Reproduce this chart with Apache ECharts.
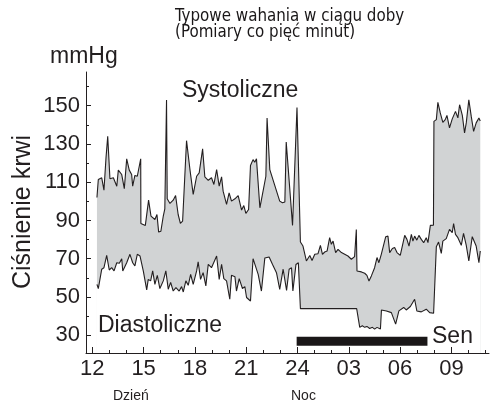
<!DOCTYPE html>
<html>
<head>
<meta charset="utf-8">
<script src="https://cdn.jsdelivr.net/npm/echarts@6/dist/echarts.min.js"></script>
<style>
  html, body { margin: 0; padding: 0; background: #fff; }
  #chart { width: 492px; height: 404px; }
</style>
</head>
<body>
<div id="chart"></div>
<script>
// Hours since midnight of the first day (24 = midnight, 33 = 09:00 next day)
const systolicHours = [
  12.27, 12.35, 12.55, 12.68, 12.80, 12.90, 13.03, 13.23, 13.43, 13.52, 13.72, 13.87, 14.01, 14.16, 14.30,
  14.36, 14.49, 14.63, 14.83, 14.84, 15.10, 15.29, 15.43, 15.53, 15.66, 15.78, 15.88, 16.01, 16.15, 16.24,
  16.34, 16.38, 16.54, 16.73, 16.87, 17.02, 17.15, 17.28, 17.51, 17.71, 17.90, 18.10, 18.25, 18.45, 18.58,
  18.78, 18.97, 19.11, 19.27, 19.42, 19.56, 19.65, 19.85, 20.00, 20.14, 20.34, 20.53, 20.73, 20.86, 20.98,
  21.14, 21.25, 21.40, 21.50, 21.60, 21.80, 22.15, 22.22, 22.38, 22.96, 23.12, 23.26, 23.34, 23.71, 23.97,
  24.17, 24.32, 24.52, 24.72, 24.85, 25.01, 25.20, 25.34, 25.46, 25.59, 25.73, 25.88, 25.98, 26.08, 26.23,
  26.37, 26.57, 26.76, 26.95, 27.15, 27.34, 27.44, 27.48, 27.74, 27.93, 28.06, 28.18, 28.32, 28.51, 28.65,
  28.76, 28.90, 29.16, 29.29, 29.39, 29.55, 29.68, 29.82, 30.01, 30.27, 30.40, 30.52, 30.66, 30.75, 30.85,
  30.98, 31.10, 31.24, 31.38, 31.53, 31.63, 31.77, 31.88, 31.95, 31.98, 32.12, 32.21, 32.35, 32.50, 32.64,
  32.74, 32.89, 33.05, 33.24, 33.38, 33.48, 33.64, 33.77, 33.87, 34.02, 34.16, 34.30, 34.45, 34.61, 34.69
];
const systolicValues = [
  102, 111.4, 112.3, 105.8, 122.7, 134, 111.8, 112.3, 107.9, 116.3, 114, 106.6, 122.2, 116.3, 114,
  107.9, 113.5, 113.1, 122.2, 88.4, 87.4, 100.6, 92.3, 93.1, 90.5, 93.1, 83.9, 84.4, 92.3, 96,
  153, 101.3, 98.9, 100.6, 103, 93.1, 88.5, 89.6, 131.7, 116.6, 103.6, 113.1, 114.9, 127.4, 112.8,
  111, 112.3, 108.8, 116.6, 107.9, 112.8, 105.3, 98.4, 104.4, 100.1, 101.3, 103, 95.4, 97.8, 93.7,
  95.7, 118.7, 121.8, 120.4, 122.2, 96.6, 113.1, 143.6, 116.6, 100.1, 99.2, 99.6, 131, 87.4, 149,
  78.7, 76.6, 68.8, 71.7, 69.1, 72.3, 72.6, 77, 72.3, 73.5, 74, 81, 77.5, 79.2, 73.2,
  74.9, 73.2, 72.3, 71.4, 69.7, 71.1, 85.3, 63.6, 63.1, 62.4, 61.3, 58.3, 61, 65.3, 70.6,
  67.9, 72.3, 81.5, 81.8, 73.2, 75.3, 75.8, 73.2, 71.7, 82.2, 80.1, 76.6, 82.7, 79.2, 81.8,
  79.7, 82.2, 80.1, 78.4, 81, 78.4, 87.4, 88.4, 87.5, 141.8, 142.7, 151.7, 146.2, 141.3, 142.7,
  144.9, 138.4, 143.1, 147, 143.6, 150.5, 144.9, 135.8, 141, 153.1, 144.5, 136.6, 141, 143.6, 142
];

const diastolicHours = [
  12.27, 12.35, 12.55, 12.68, 12.84, 12.99, 13.13, 13.27, 13.43, 13.58, 13.72, 13.78, 14.01, 14.20, 14.36,
  14.49, 14.63, 14.79, 14.98, 15.18, 15.27, 15.41, 15.53, 15.66, 15.80, 15.95, 16.15, 16.30, 16.44, 16.58,
  16.73, 16.89, 17.08, 17.22, 17.32, 17.47, 17.61, 17.75, 17.90, 18.10, 18.19, 18.33, 18.48, 18.64, 18.78,
  18.97, 19.27, 19.42, 19.56, 19.69, 19.85, 20.04, 20.14, 20.34, 20.43, 20.59, 20.78, 20.92, 21.02, 21.25,
  21.40, 21.50, 21.70, 21.89, 22.09, 22.34, 22.54, 22.77, 22.96, 23.16, 23.36, 23.51, 23.65, 23.73, 23.91,
  24.05, 24.17, 27.46, 27.64, 27.79, 27.93, 28.06, 28.22, 28.38, 28.51, 28.65, 28.85, 28.91, 29.20, 29.49,
  29.74, 29.93, 30.21, 30.36, 30.60, 30.85, 30.98, 31.24, 31.53, 31.73, 31.96, 32.05, 32.12, 32.25, 32.41,
  32.50, 32.70, 32.89, 33.05, 33.13, 33.24, 33.38, 33.58, 33.71, 33.87, 34.02, 34.22, 34.45, 34.61, 34.69
];
const diastolicValues = [
  56.6, 54.4, 64.5, 65.3, 71.7, 64.1, 65.3, 63.6, 67.9, 67.6, 70, 63.6, 67.9, 72.3, 67.9,
  66.2, 72.3, 71.4, 63.6, 53.7, 59.2, 58.4, 63.6, 56.6, 61.3, 54.4, 58.4, 63.6, 54, 57.6,
  53.1, 54.9, 53.1, 55.4, 52.6, 58.4, 56.1, 61.8, 56.6, 63.6, 68.3, 59.2, 62.7, 55.8, 67,
  65.3, 71.4, 59.2, 67, 59.6, 58.4, 48.8, 61.3, 60.6, 53.1, 59.6, 54.4, 55.4, 49.7, 47.9,
  70, 70.4, 61.8, 53.1, 70.4, 70.9, 67, 62.7, 54, 64.5, 53.4, 64.5, 65.3, 53.1, 67,
  67.9, 43.9, 43.9, 34.1, 34.9, 34.1, 34.6, 33.5, 34.1, 33.2, 34.1, 33.2, 43.2, 42.7, 41.8,
  35.8, 42.7, 44.5, 43.2, 45, 48.8, 42.7, 42.2, 43.6, 41.8, 41.5, 41.8, 76.3, 78.7, 72.8,
  79.2, 80.5, 85.3, 83.6, 88.4, 82.7, 81, 77, 83.2, 77, 68.8, 81.5, 76.6, 67.9, 74
];

// Sleep period (start, end in hours) and the level the bar is drawn at
const sleepHours = [23.95, 31.6];
const sleepLevel = 26.8;

// Axis ticks
const hourLabels = [12, 15, 18, 21, 24, 27, 30, 33];
const hourMinorTicks = [12, 13, 14, 15, 16, 17, 18, 19, 20, 21, 22, 23, 24, 25, 26, 27, 28, 29, 30, 31, 32, 33, 34, 35];
const pressureLabels = [30, 50, 70, 90, 110, 130, 150];
const pressureMinorTicks = [40, 60, 80, 100, 120, 140, 160];

const INK = '#231f20';
const FONT = 'Liberation Sans, Arial, sans-serif';

const zip = (xs, ys) => xs.map((x, i) => [x, ys[i]]);

function hourText(v) {
  const h = v % 24 === 0 ? 24 : v % 24;
  return h < 10 ? '0' + h : String(h);
}

const chart = echarts.init(document.getElementById('chart'), null, { renderer: 'canvas' });

const xRange = { min: 11.63, max: 35.2 };
const yRange = { min: 20.7, max: 167.6 };

chart.setOption({
  animation: false,
  backgroundColor: '#fff',
  grid: { left: 86, right: 3, top: 72, bottom: 51, containLabel: false },
  xAxis: [
    {
      type: 'value', ...xRange, z: 10,
      axisLine: { show: true, lineStyle: { color: INK, width: 1 } },
      axisTick: { show: true, inside: true, length: 6, customValues: hourLabels, lineStyle: { color: INK } },
      axisLabel: {
        show: true, customValues: hourLabels, formatter: hourText, margin: 5,
        color: INK, fontSize: 22, fontFamily: FONT
      },
      splitLine: { show: false }
    },
    {
      type: 'value', ...xRange, z: 10, position: 'bottom',
      axisLine: { show: false },
      axisTick: { show: true, inside: true, length: 3, customValues: hourMinorTicks, lineStyle: { color: INK } },
      axisLabel: { show: false },
      splitLine: { show: false }
    }
  ],
  yAxis: [
    {
      type: 'value', ...yRange, z: 10, position: 'left',
      axisLine: { show: true, lineStyle: { color: INK, width: 1 } },
      axisTick: { show: true, inside: true, length: 5, customValues: pressureLabels, lineStyle: { color: INK } },
      axisLabel: {
        show: true, customValues: pressureLabels, margin: 6,
        color: INK, fontSize: 22, fontFamily: FONT
      },
      splitLine: { show: false }
    },
    {
      type: 'value', ...yRange, z: 10, position: 'left',
      axisLine: { show: false },
      axisTick: { show: true, inside: true, length: 3, customValues: pressureMinorTicks, lineStyle: { color: INK } },
      axisLabel: { show: false },
      splitLine: { show: false }
    }
  ],
  series: [
    {
      name: 'Systoliczne', type: 'line', xAxisIndex: 0, yAxisIndex: 0,
      data: zip(systolicHours, systolicValues),
      symbol: 'none', z: 2,
      lineStyle: { color: INK, width: 1.1 },
      areaStyle: { color: '#d1d3d4', opacity: 1, origin: 'start' }
    },
    {
      name: 'Diastoliczne', type: 'line', xAxisIndex: 0, yAxisIndex: 0,
      data: zip(diastolicHours, diastolicValues),
      symbol: 'none', z: 3,
      lineStyle: { color: INK, width: 1.1 },
      areaStyle: { color: '#ffffff', opacity: 1, origin: 'start' }
    },
    {
      name: 'Sen', type: 'line', xAxisIndex: 0, yAxisIndex: 0,
      data: sleepHours.map(h => [h, sleepLevel]),
      symbol: 'none', z: 4,
      lineStyle: { color: '#1a1718', width: 9, cap: 'butt' }
    }
  ],
  graphic: [
    {
      type: 'text', x: 175, y: 8, z: 100,
      style: {
        text: 'Typowe wahania w ciągu doby\n(Pomiary co pięć minut)',
        font: '16.8px "DejaVu Sans Condensed", "DejaVu Sans", sans-serif',
        lineHeight: 16.5, fill: '#1a1718', align: 'left', verticalAlign: 'top'
      }
    },
    {
      type: 'text', x: 50, y: 57, z: 100,
      style: { text: 'mmHg', font: '23px ' + FONT, fill: INK, align: 'left', verticalAlign: 'middle' }
    },
    {
      type: 'text', x: 23, y: 212, rotation: Math.PI / 2, z: 100,
      style: { text: 'Ciśnienie krwi', font: '25px ' + FONT, fill: INK, align: 'center', verticalAlign: 'middle' }
    },
    {
      type: 'text', x: 182, y: 91, z: 100,
      style: { text: 'Systoliczne', font: '23px ' + FONT, fill: INK, align: 'left', verticalAlign: 'middle' }
    },
    {
      type: 'text', x: 98, y: 326, z: 100,
      style: { text: 'Diastoliczne', font: '23px ' + FONT, fill: INK, align: 'left', verticalAlign: 'middle' }
    },
    {
      type: 'text', x: 432, y: 337, z: 100,
      style: { text: 'Sen', font: '23px ' + FONT, fill: INK, align: 'left', verticalAlign: 'middle' }
    },
    {
      type: 'text', x: 113, y: 396, z: 100,
      style: { text: 'Dzień', font: '14px ' + FONT, fill: INK, align: 'left', verticalAlign: 'middle' }
    },
    {
      type: 'text', x: 291, y: 396, z: 100,
      style: { text: 'Noc', font: '14px ' + FONT, fill: INK, align: 'left', verticalAlign: 'middle' }
    }
  ]
});
</script>
</body>
</html>
